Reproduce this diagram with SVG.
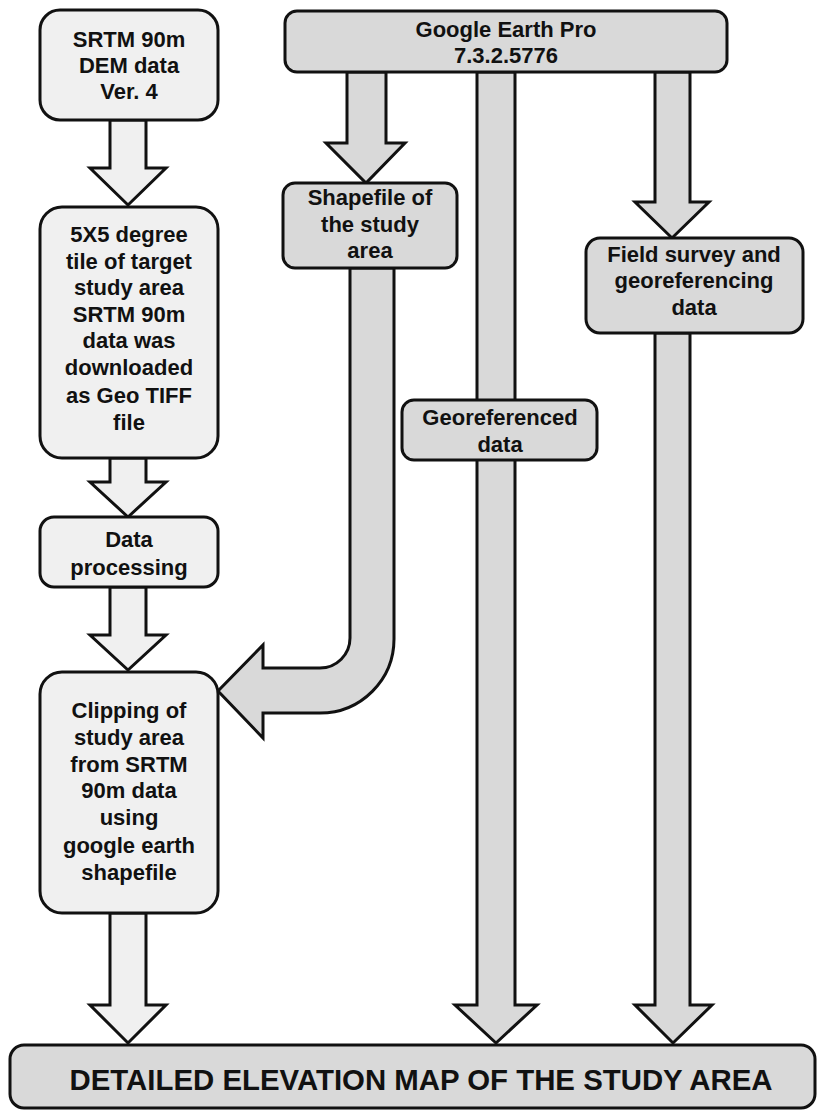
<svg xmlns="http://www.w3.org/2000/svg" width="817" height="1115" viewBox="0 0 817 1115">
<style>
.lt{fill:#f0f0f0;stroke:#111;stroke-width:3;stroke-linejoin:miter}
.gy{fill:#d9d9d9;stroke:#111;stroke-width:3;stroke-linejoin:miter}
.t{font-family:"Liberation Sans",Arial,sans-serif;font-weight:bold;font-size:22px;fill:#111;text-anchor:middle}
.big{font-size:29.5px}
</style>
<rect width="817" height="1115" fill="#fff"/>
<g id="connectors">
<polygon class="lt" points="110,120 146,120 146,168 166,168 128,205 90,168 110,168"/>
<polygon class="lt" points="110,458 146,458 146,482 166,482 128,517 90,482 110,482"/>
<polygon class="lt" points="110,587 146,587 146,635 166,635 128,670 90,635 110,635"/>
<polygon class="lt" points="110,913 146,913 146,1005 166,1005 128,1043 90,1005 110,1005"/>
<polygon class="gy" points="347,72 386,72 386,143 405,143 366,183 326,143 347,143"/>
<polygon class="gy" points="477,72 515,72 515,1005 537,1005 496,1043 455,1005 477,1005"/>
<polygon class="gy" points="655,72 690,72 690,202 709,202 672,238 635,202 655,202"/>
<polygon class="gy" points="655,333 690,333 690,1005 712,1005 673,1043 635,1005 655,1005"/>
<path class="gy" d="M350,268 L350,638 A30,30 0 0 1 320,668 L263,668 L263,645 L218,691 L263,738 L263,713 L320,713 A74,74 0 0 0 394,639 L394,268 Z"/>
</g>
<g id="srtm">
<rect class="lt" x="40" y="10" width="178" height="110" rx="20"/>
<text class="t" x="129" y="47">SRTM 90m</text>
<text class="t" x="129" y="73">DEM data</text>
<text class="t" x="129" y="99">Ver. 4</text>
</g>
<g id="tile">
<rect class="lt" x="40" y="207" width="178" height="251" rx="22"/>
<text class="t" x="129" y="242">5X5 degree</text>
<text class="t" x="129" y="269">tile of target</text>
<text class="t" x="129" y="295">study area</text>
<text class="t" x="129" y="322">SRTM 90m</text>
<text class="t" x="129" y="348">data was</text>
<text class="t" x="129" y="375">downloaded</text>
<text class="t" x="129" y="403">as Geo TIFF</text>
<text class="t" x="129" y="430">file</text>
</g>
<g id="processing">
<rect class="lt" x="40" y="517" width="178" height="70" rx="14"/>
<text class="t" x="129" y="547">Data</text>
<text class="t" x="129" y="575">processing</text>
</g>
<g id="clipping">
<rect class="lt" x="40" y="672" width="178" height="241" rx="22"/>
<text class="t" x="129" y="718">Clipping of</text>
<text class="t" x="129" y="745">study area</text>
<text class="t" x="129" y="772">from SRTM</text>
<text class="t" x="129" y="798">90m data</text>
<text class="t" x="129" y="825">using</text>
<text class="t" x="129" y="853">google earth</text>
<text class="t" x="129" y="880">shapefile</text>
</g>
<g id="google-earth">
<rect class="gy" x="285" y="11" width="442" height="61" rx="12"/>
<text class="t" x="506" y="37">Google Earth Pro</text>
<text class="t" x="506" y="63">7.3.2.5776</text>
</g>
<g id="shapefile">
<rect class="gy" x="283" y="183" width="174" height="85" rx="12"/>
<text class="t" x="370" y="205">Shapefile of</text>
<text class="t" x="370" y="232">the study</text>
<text class="t" x="370" y="258">area</text>
</g>
<g id="field-survey">
<rect class="gy" x="586" y="238" width="217" height="95" rx="14"/>
<text class="t" x="694" y="262">Field survey and</text>
<text class="t" x="694" y="288">georeferencing</text>
<text class="t" x="694" y="315">data</text>
</g>
<g id="georeferenced">
<rect class="gy" x="402" y="400" width="195" height="60" rx="12"/>
<text class="t" x="500" y="425">Georeferenced</text>
<text class="t" x="500" y="452">data</text>
</g>
<g id="elevation-map">
<rect class="gy" x="10" y="1045" width="805" height="63" rx="14"/>
<text class="t big" x="421" y="1090" textLength="703" lengthAdjust="spacingAndGlyphs">DETAILED ELEVATION MAP OF THE STUDY AREA</text>
</g>
</svg>
